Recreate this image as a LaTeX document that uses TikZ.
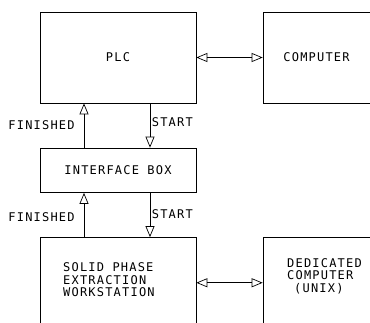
\documentclass[tikz,border=0pt]{standalone}
\usepackage{fontspec}
\newfontfamily\plotfont[LetterSpace=10]{DejaVu Sans Mono}
\usetikzlibrary{arrows.meta}
\tikzset{
  blockbox/.style={draw,line width=.7pt,inner sep=0pt},
  blocktext/.style={font=\plotfont\fontsize{12}{12.5}\selectfont,inner sep=0pt,align=left},
  sigarr/.style={-{Triangle[open,length=11pt,width=9pt]},line width=.7pt},
  linkarr/.style={{Triangle[open,length=11pt,width=9pt]}-{Triangle[open,length=11pt,width=9pt]},line width=.7pt},
  siglabel/.style={font=\plotfont\fontsize{12}{12.5}\selectfont,inner sep=0pt}
}

\begin{document}
\begin{tikzpicture}[x=1pt,y=-1pt]
  \useasboundingbox (0,0) rectangle (370,322);
  \clip (0,0) rectangle (370,322);
  % blocks (the right and lower ones run off the sheet)
  \node[blockbox,blocktext,minimum width=156pt,minimum height=91pt] (plc) at (118,57.5) {PLC};
  \node[blockbox,minimum width=137pt,minimum height=91pt] (comp) at (331.5,57.5) {};
  \node[blocktext] (compl) at (316.5,57.5) {COMPUTER};
  \node[blockbox,blocktext,minimum width=156pt,minimum height=44.5pt] (iface) at (118,170.25) {INTERFACE BOX};
  \node[blockbox,minimum width=156pt,minimum height=112.5pt] (spe) at (118,293.75) {};
  \node[blocktext,anchor=west] (spel) at (63,280) {SOLID PHASE\\EXTRACTION\\WORKSTATION};
  \node[blockbox,minimum width=137pt,minimum height=112.5pt] (ded) at (331.5,293.75) {};
  \node[blocktext,anchor=west] (dedl) at (287,276) {DEDICATED\\COMPUTER\\\hspace*{7pt}(UNIX)};

  % links
  \draw[linkarr] (plc.east) -- (comp.west);
  \draw[linkarr] ([yshift=11pt]spe.east) -- ([yshift=11pt]ded.west);

  % handshake signals
  \draw[sigarr] ([xshift=-34pt]iface.north) -- ([xshift=-34pt]plc.south)
    node[siglabel,midway,left=9pt] {FINISHED};
  \draw[sigarr] ([xshift=32pt]plc.south) -- ([xshift=32pt]iface.north)
    node[siglabel,midway,right=1.5pt,yshift=3pt] {START};
  \draw[sigarr] ([xshift=-34pt]spe.north) -- ([xshift=-34pt]iface.south)
    node[siglabel,midway,left=9pt,yshift=-2pt] {FINISHED};
  \draw[sigarr] ([xshift=32pt]iface.south) -- ([xshift=32pt]spe.north)
    node[siglabel,midway,right=1.5pt,yshift=1pt] {START};
\end{tikzpicture}
\end{document}
